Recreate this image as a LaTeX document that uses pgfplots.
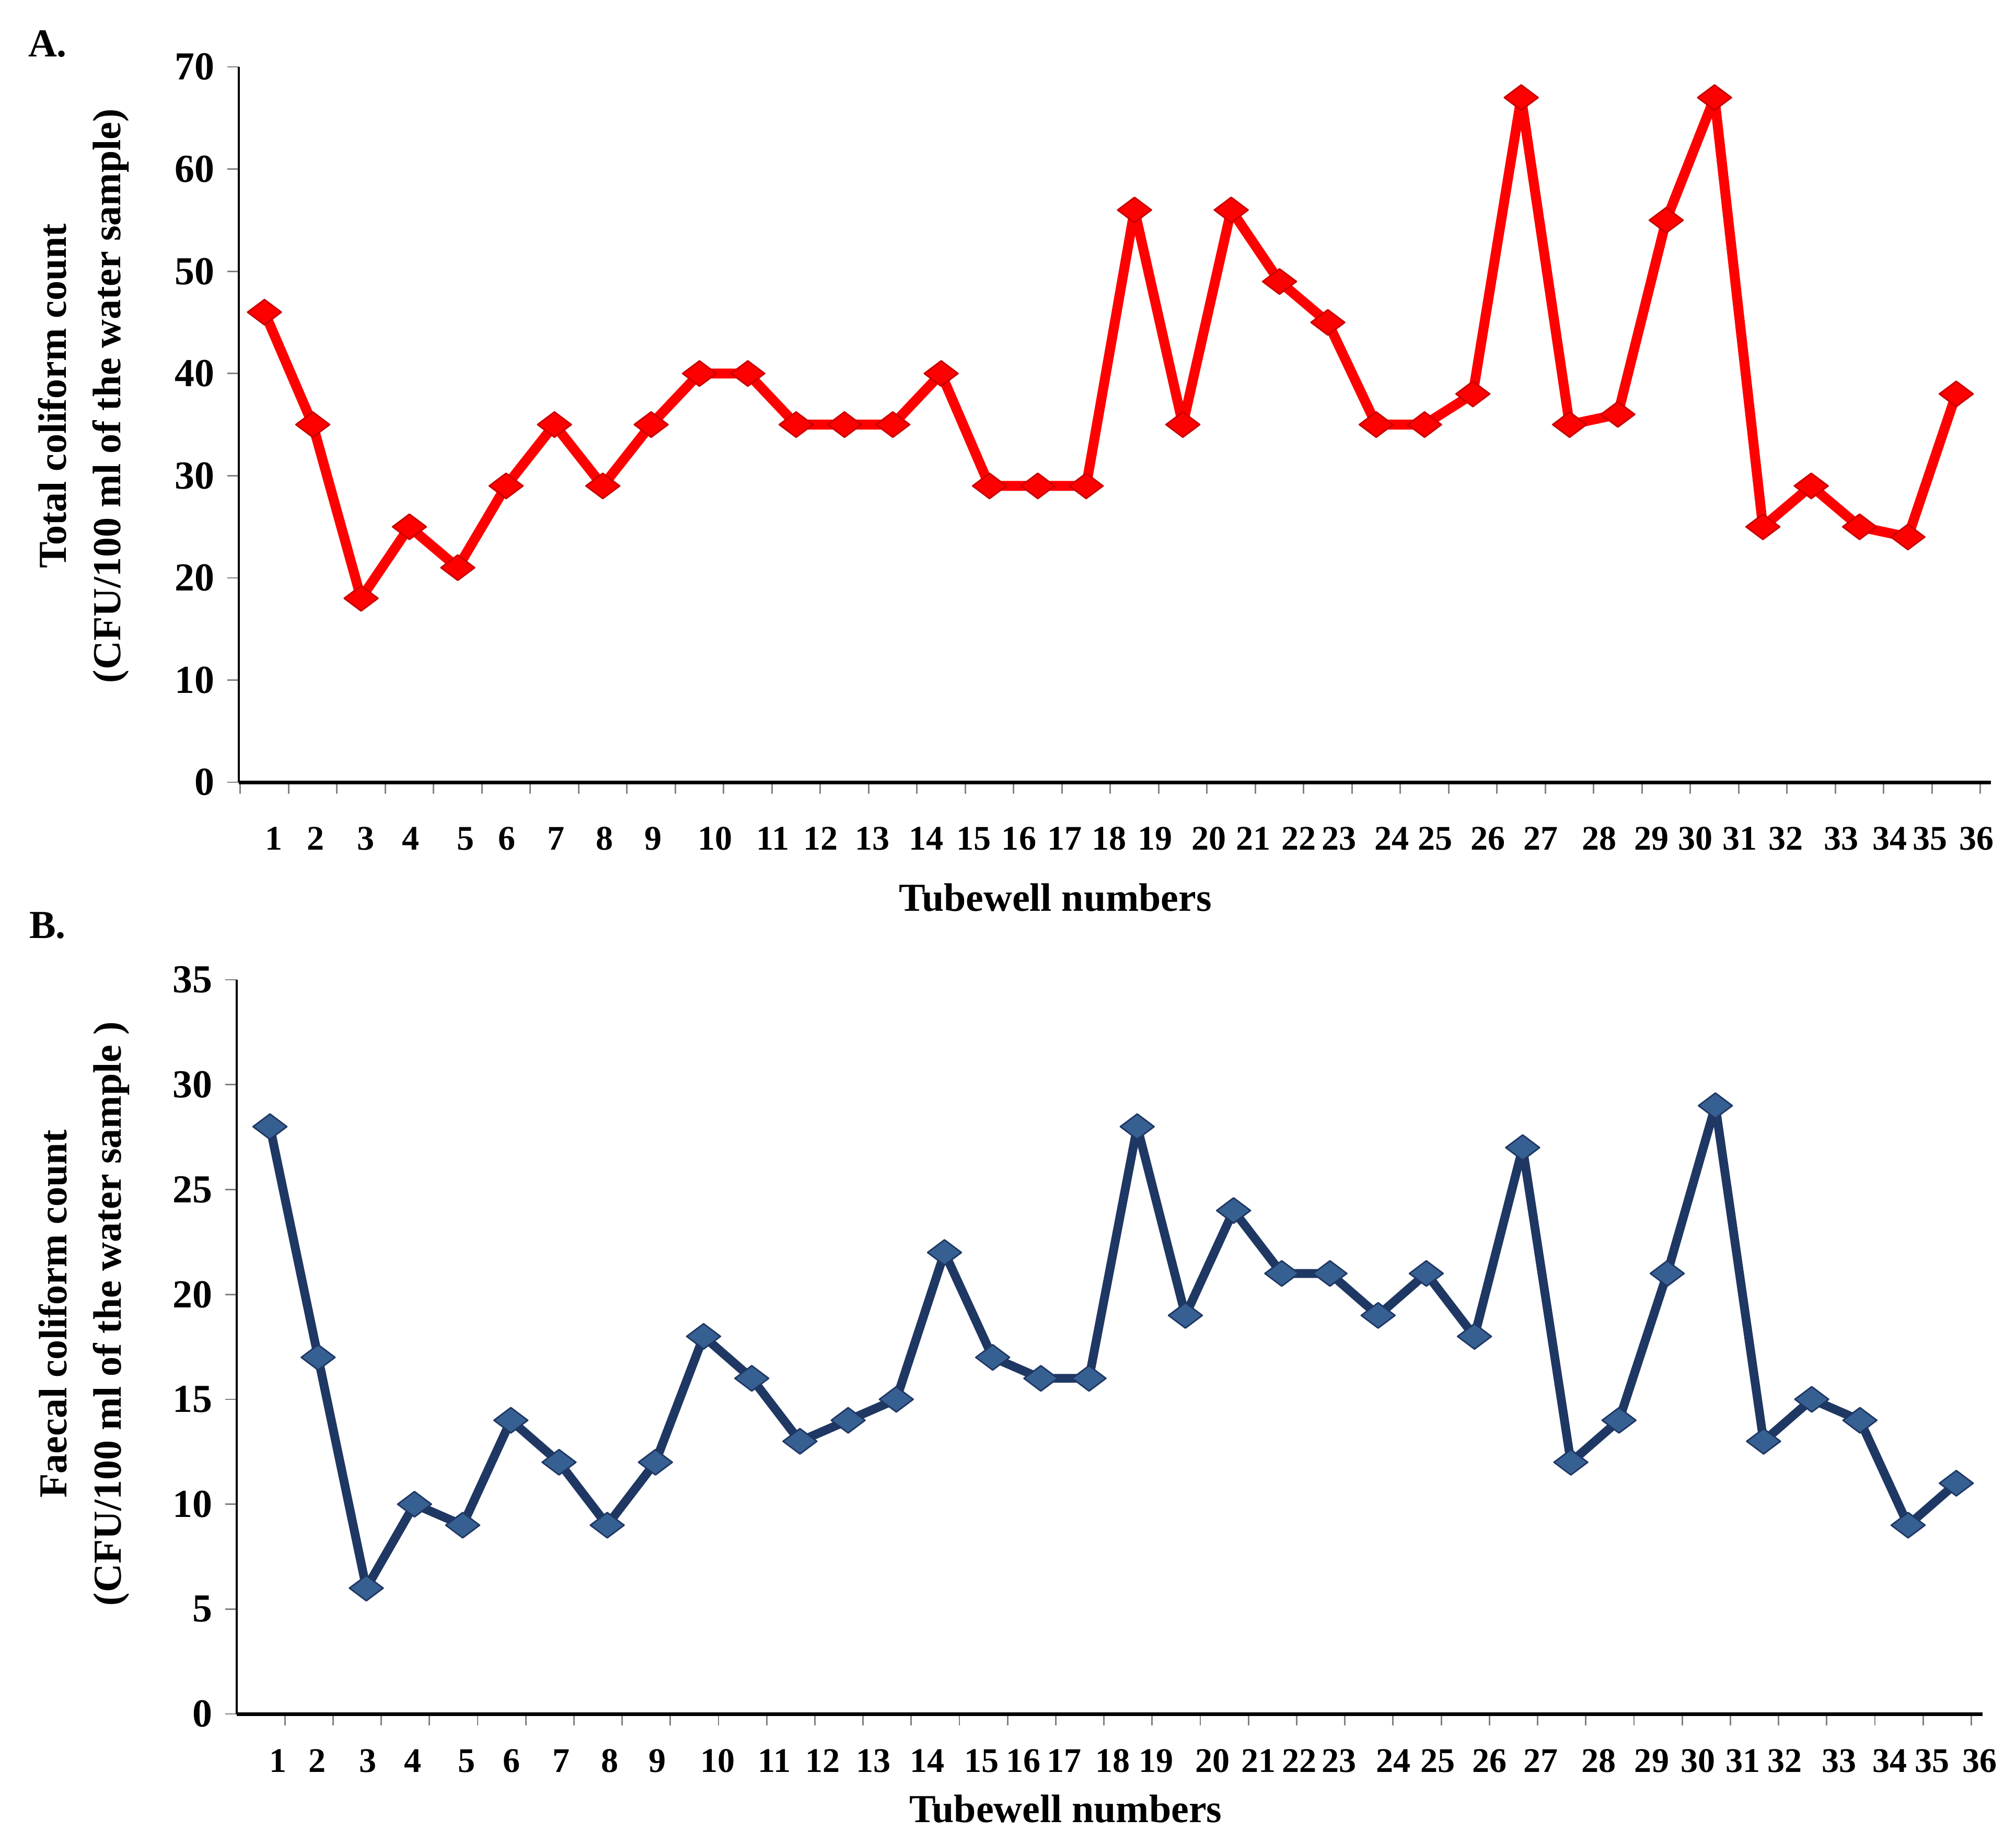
\documentclass[border=0pt]{standalone}
\usepackage{pgfplots}
\pgfplotsset{compat=1.18}
\usepackage{fontspec}
\setmainfont{Liberation Serif}

\definecolor{tcred}{RGB}{255,0,0}
\definecolor{tcreddark}{RGB}{200,0,0}
\definecolor{fcline}{RGB}{31,55,99}
\definecolor{fcmark}{RGB}{55,96,146}
\definecolor{tickgray}{RGB}{128,128,128}

\pgfplotsset{
  tubewell/.style={
    scale only axis,
    clip=false,
    axis x line=bottom,
    axis y line=left,
    x axis line style={-, line width=1pt},
    y axis line style={-, line width=0.6pt},
    tick align=outside,
    major tick length=1.1mm,
    minor tick length=1.1mm,
    major x tick style={draw=none},
    minor x tick style={draw=tickgray, line width=0.4pt},
    y tick style={draw=tickgray, line width=0.4pt},
    /pgf/number format/assume math mode=true,
    xticklabels={1,2,3,4,5,6,7,8,9,10,11,12,13,14,15,16,17,18,19,20,21,22,23,24,25,26,27,28,29,30,31,32,33,34,35,36},
    yticklabel style={font=\fontsize{10.8}{12}\selectfont\bfseries},
    label style={font=\fontsize{10.8}{14.8}\selectfont\bfseries},
  }
}

\begin{document}
\begin{tikzpicture}
\path (0,0) rectangle (192.9mm,-176.3mm);

\node[font=\fontsize{10.8}{12}\selectfont\bfseries] at (4.55mm,-4.2mm) {A.};
\node[font=\fontsize{10.8}{12}\selectfont\bfseries] at (4.55mm,-88.55mm) {B.};

% A. total coliform
\begin{axis}[
    tubewell,
    at={(22.85mm,-74.85mm)}, anchor=south west,
    width=167.66mm, height=68.45mm,
    xmin=0.47, xmax=36.72,
    ymin=0, ymax=70,
    ytick={0,10,20,30,40,50,60,70},
    minor xtick={0.5,1.5,...,36.5},
    xtick={1.19,2.06,3.10,4.03,5.16,6.02,7.03,8.04,9.04,10.32,11.52,12.51,13.58,14.69,15.68,16.61,17.56,18.48,19.43,20.54,21.46,22.40,23.23,24.32,25.22,26.31,27.40,28.61,29.70,30.60,31.52,32.47,33.62,34.63,35.46,36.42},
    xticklabel style={font=\fontsize{9.4}{10}\selectfont\bfseries, anchor=base, yshift=-5.35mm},
    xlabel={Tubewell numbers},
    xlabel style={at={(axis description cs:0.466,0)}, anchor=base, yshift=-12.3mm},
    ylabel={Total coliform count\\(CFU/100 ml of the water sample)},
    ylabel style={at={(axis description cs:-0.0886,0.54)}, anchor=center, align=center},
]
\addplot[color=tcred, line width=2.7pt, line join=round, mark=diamond*,
    mark size=4.6pt, mark options={rotate=90, fill=tcred, draw=tcreddark, line width=0.4pt}]
    coordinates {
    (1,46)(2,35)(3,18)(4,25)(5,21)(6,29)(7,35)(8,29)(9,35)(10,40)
    (11,40)(12,35)(13,35)(14,35)(15,40)(16,29)(17,29)(18,29)(19,56)(20,35)
    (21,56)(22,49)(23,45)(24,35)(25,35)(26,38)(27,67)(28,35)(29,36)(30,55)
    (31,67)(32,25)(33,29)(34,25)(35,24)(36,38)
    };
\end{axis}

% B. faecal coliform
\begin{axis}[
    tubewell,
    at={(22.65mm,-164mm)}, anchor=south west,
    width=167.07mm, height=70.25mm,
    xmin=0.31, xmax=36.55,
    ymin=0, ymax=35,
    ytick={0,5,10,15,20,25,30,35},
    minor xtick={1.31,2.31,...,36.31},
    xtick={1.17,1.98,3.03,3.97,5.08,6.02,7.05,8.05,9.04,10.29,11.47,12.47,13.53,14.64,15.77,16.64,17.48,18.49,19.39,20.56,21.52,22.36,23.19,24.32,25.24,26.31,27.37,28.58,29.68,30.64,31.57,32.44,33.57,34.62,35.50,36.49},
    xticklabel style={font=\fontsize{9.4}{10}\selectfont\bfseries, anchor=base, yshift=-4.48mm},
    xlabel={Tubewell numbers},
    xlabel style={at={(axis description cs:0.4747,0)}, anchor=base, yshift=-10.35mm},
    ylabel={Faecal coliform count\\(CFU/100 ml of the water sample )},
    ylabel style={at={(axis description cs:-0.0875,0.545)}, anchor=center, align=center},
]
\addplot[color=fcline, line width=2.4pt, line join=round, mark=diamond*,
    mark size=4.6pt, mark options={rotate=90, fill=fcmark, draw=fcline, line width=0.4pt}]
    coordinates {
    (1,28)(2,17)(3,6)(4,10)(5,9)(6,14)(7,12)(8,9)(9,12)(10,18)
    (11,16)(12,13)(13,14)(14,15)(15,22)(16,17)(17,16)(18,16)(19,28)(20,19)
    (21,24)(22,21)(23,21)(24,19)(25,21)(26,18)(27,27)(28,12)(29,14)(30,21)
    (31,29)(32,13)(33,15)(34,14)(35,9)(36,11)
    };
\end{axis}
\end{tikzpicture}
\end{document}
